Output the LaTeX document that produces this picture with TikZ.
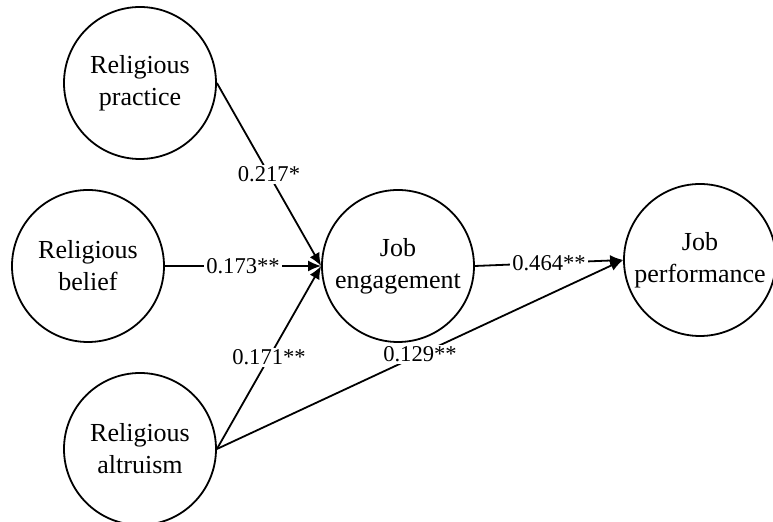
\documentclass[tikz,border=0pt]{standalone}
\usepackage{fontspec}
\setmainfont{Liberation Serif}
\usetikzlibrary{arrows.meta}

\begin{document}
\begin{tikzpicture}[
        x=0.5pt, y=-0.5pt,
        >={Latex[length=6.5pt,width=5.5pt]},
        construct/.style={draw, circle, line width=0.9pt, minimum size=76pt, inner sep=0pt, align=center, font=\fontsize{13}{16}\selectfont},
        path/.style={->, line width=0.9pt},
        coef/.style={fill=white, inner sep=1pt, font=\fontsize{11.3}{13}\selectfont}
    ]
    \useasboundingbox (0,0) rectangle (773,522);
    \node[construct] (practice) at (140, 83) {Religious\\practice};
    \node[construct] (belief) at (88, 266) {Religious\\belief};
    \node[construct] (altruism) at (140, 449) {Religious\\altruism};
    \node[construct] (engage) at (398, 266) {Job\\engagement};
    \node[construct] (perform) at (700, 260) {Job\\performance};
    \draw[path] (practice.east) -- (engage.west) node[midway, coef] {0.217*};
    \draw[path] (belief.east) -- (engage.west) node[midway, coef] {0.173**};
    \draw[path] (altruism.east) -- (engage.west) node[midway, coef] {0.171**};
    \draw[path] (engage.east) -- (perform.west) node[midway, coef] {0.464**};
    \draw[path] (altruism.east) -- (perform.west) node[midway, coef] {0.129**};
\end{tikzpicture}
\end{document}
